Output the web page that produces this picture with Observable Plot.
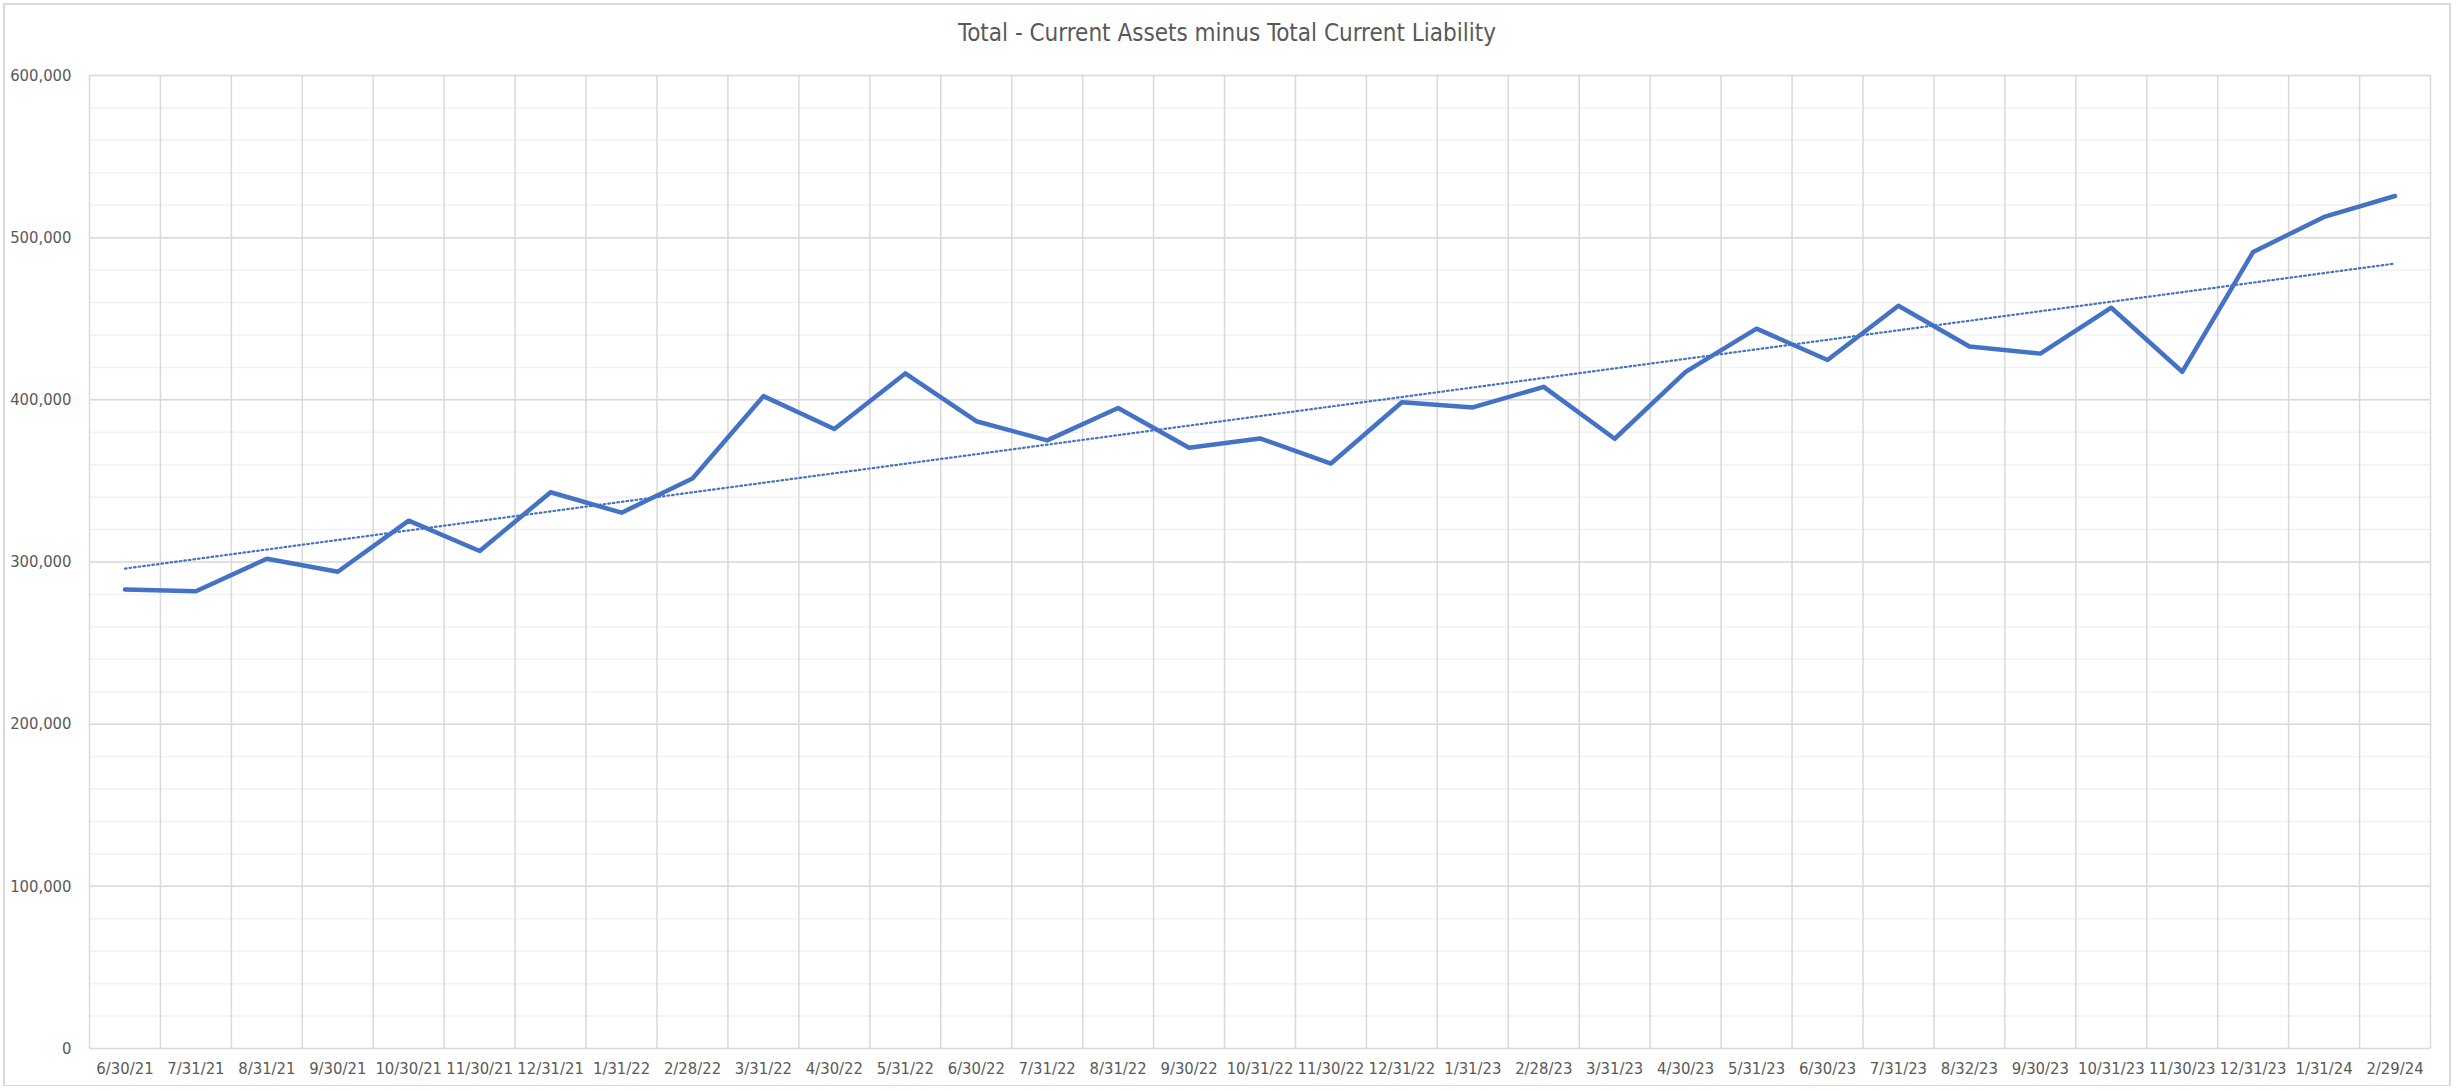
<!DOCTYPE html>
<html>
<head>
<meta charset="utf-8">
<script src="https://cdn.jsdelivr.net/npm/d3@7"></script>
<script src="https://cdn.jsdelivr.net/npm/@observablehq/plot@0.6"></script>
<style>
  html, body { margin: 0; padding: 0; background: #fff; }
  #frame {
    position: absolute; left: 3px; top: 3px; width: 2448px; height: 1083px;
    border: 2px solid #d9d9d9; box-sizing: border-box; background: #fff;
  }
  #title {
    height: 50px; line-height: 56px; text-align: center; color: #595959;
    font-family: "Liberation Sans Narrow", "Arial Narrow", "DejaVu Sans Condensed", sans-serif;
    font-size: 24px;
  }
</style>
</head>
<body>
<div id="frame">
  <div id="title">Total - Current Assets minus Total Current Liability</div>
  <div id="chart"></div>
</div>
<script>
const dates = ["6/30/21","7/31/21","8/31/21","9/30/21","10/30/21","11/30/21","12/31/21",
  "1/31/22","2/28/22","3/31/22","4/30/22","5/31/22","6/30/22","7/31/22","8/31/22","9/30/22","10/31/22","11/30/22","12/31/22",
  "1/31/23","2/28/23","3/31/23","4/30/23","5/31/23","6/30/23","7/31/23","8/32/23","9/30/23","10/31/23","11/30/23","12/31/23",
  "1/31/24","2/29/24"];
const values = [283000, 282000, 302000, 294000, 325500, 306800, 343000,
  330400, 351500, 402300, 382000, 416300, 386800, 375000, 395000, 370500, 376200, 360700, 398500,
  395300, 408000, 376000, 417200, 443900, 424600, 458000, 432900, 428500, 456800, 417300, 491200,
  512800, 525700];
const yMajorTicks = [0, 100000, 200000, 300000, 400000, 500000, 600000];
const yMinorTicks = d3.range(0, 600001, 20000);

const data = dates.map((d, i) => ({i, date: d, value: values[i]}));
const idx = d3.range(dates.length);
const bounds = d3.range(-0.5, dates.length, 1);

const font = '"Liberation Sans Narrow", "Arial Narrow", "DejaVu Sans Condensed", sans-serif';
const blue = "#4472C4";

const chart = Plot.plot({
  width: 2444,
  height: 1030,
  marginLeft: 84,
  marginRight: 19,
  marginTop: 20,
  marginBottom: 37,
  style: {fontFamily: font, fontSize: "16.5px", color: "#595959", background: "#fff"},
  x: {domain: [-0.5, dates.length - 0.5], axis: null, label: null},
  y: {domain: [0, 600000], axis: null, label: null},
  marks: [
    Plot.ruleY(yMinorTicks, {stroke: "#f2f2f2", strokeWidth: 1.5}),
    Plot.ruleY(yMajorTicks, {stroke: "#d9d9d9", strokeWidth: 1.5}),
    Plot.ruleX(bounds, {stroke: "#d9d9d9", strokeWidth: 1.5}),
    Plot.axisX({ticks: idx, tickFormat: i => dates[i], tickSize: 0, tickPadding: 14, fill: "#595959", label: null}),
    Plot.axisY({ticks: yMajorTicks, tickFormat: d3.format(","), tickSize: 0, tickPadding: 18, fill: "#595959", label: null}),
    Plot.linearRegressionY(data, {x: "i", y: "value", stroke: blue, strokeWidth: 2.2, strokeDasharray: "1.6,3", ci: 0}),
    Plot.line(data, {x: "i", y: "value", stroke: blue, strokeWidth: 4.5, strokeLinejoin: "round"})
  ]
});
document.getElementById("chart").appendChild(chart);
</script>
</body>
</html>
